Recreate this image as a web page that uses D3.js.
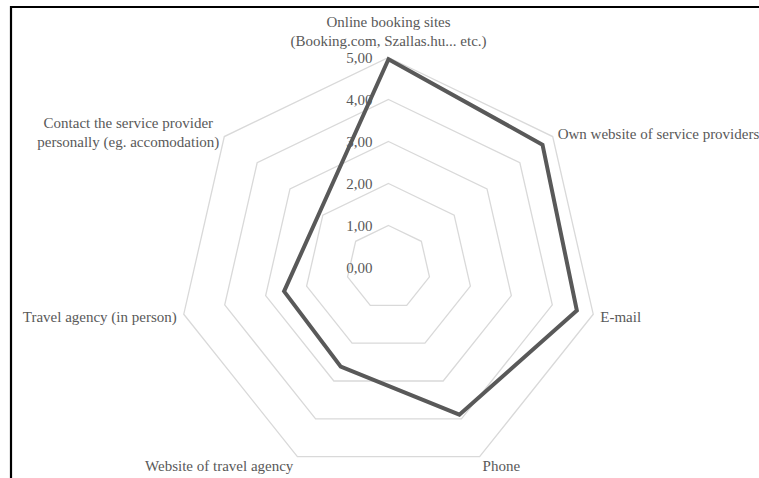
<!DOCTYPE html>
<html>
<head>
<meta charset="utf-8">
<script src="https://cdn.jsdelivr.net/npm/d3@7"></script>
<style>
html,body{margin:0;padding:0;background:#fff;}
svg{display:block;}
</style>
</head>
<body>
<svg id="chart" width="759" height="478"></svg>
<script>
const categories = [
  ["Online booking sites", "(Booking.com, Szallas.hu... etc.)"],
  ["Own website of service providers"],
  ["E-mail"],
  ["Phone"],
  ["Website of travel agency"],
  ["Travel agency (in person)"],
  ["Contact the service provider", "personally (eg. accomodation)"]
];
const values = [4.96, 4.69, 4.60, 3.89, 2.62, 2.55, 2.10];
const tickValues = [0, 1, 2, 3, 4, 5];
const tickLabels = ["0,00", "1,00", "2,00", "3,00", "4,00", "5,00"];

const FONT = "'Liberation Serif', 'Times New Roman', Times, 'DejaVu Serif', serif";
const svg = d3.select("#chart");
const W = 759, H = 478;
const cx = 388.5, cy = 267.5, R = 210;
const n = categories.length;

// frame
svg.append("path")
  .attr("d", `M11,${H} L11,7 L${W},7`)
  .attr("fill", "none").attr("stroke", "#000").attr("stroke-width", 2.2);

const r = d3.scaleLinear().domain([0, 5]).range([0, R]);
const angle = i => i * 2 * Math.PI / n;
const pt = (i, v) => [cx + Math.sin(angle(i)) * r(v), cy - Math.cos(angle(i)) * r(v)];

const g = svg.append("g")
  .attr("font-family", FONT)
  .attr("font-size", 15)
  .attr("fill", "#595959");
const lineClosed = d3.line().curve(d3.curveLinearClosed);

// grid rings
g.selectAll("path.ring")
  .data(tickValues.filter(t => t > 0))
  .join("path")
  .attr("class", "ring")
  .attr("d", t => lineClosed(d3.range(n).map(i => pt(i, t))))
  .attr("fill", "none")
  .attr("stroke", "#d9d9d9")
  .attr("stroke-width", 1.3);

// data
g.append("path")
  .attr("d", lineClosed(values.map((v, i) => pt(i, v))))
  .attr("fill", "none")
  .attr("stroke", "#595959")
  .attr("stroke-width", 4)
  .attr("stroke-linejoin", "miter");

// tick labels
g.selectAll("text.tick")
  .data(tickValues)
  .join("text")
  .attr("class", "tick")
  .attr("x", cx - 16)
  .attr("y", t => cy - r(t))
  .attr("dy", "0.35em")
  .attr("text-anchor", "end")
  .attr("fill", "#595959")
  .text((t, i) => tickLabels[i]);

// category labels
const labelOffset = [
  {anchor: "middle", dx: 0, dy: -36},
  {anchor: "start", dx: 5, dy: -3},
  {anchor: "start", dx: 7, dy: 3},
  {anchor: "start", dx: 3, dy: 9},
  {anchor: "end", dx: -4, dy: 9},
  {anchor: "end", dx: -7, dy: 3},
  {anchor: "middle", dx: -96, dy: -14}
];
categories.forEach((lines, i) => {
  const [x, y] = pt(i, 5);
  const o = labelOffset[i];
  const t = g.append("text")
    .attr("text-anchor", o.anchor)
    .attr("fill", "#595959")
    .attr("x", x + o.dx)
    .attr("y", y + o.dy);
  lines.forEach((s, j) => {
    t.append("tspan")
      .attr("x", x + o.dx)
      .attr("dy", j === 0 ? "0.35em" : "1.25em")
      .text(s);
  });
});
</script>
</body>
</html>
